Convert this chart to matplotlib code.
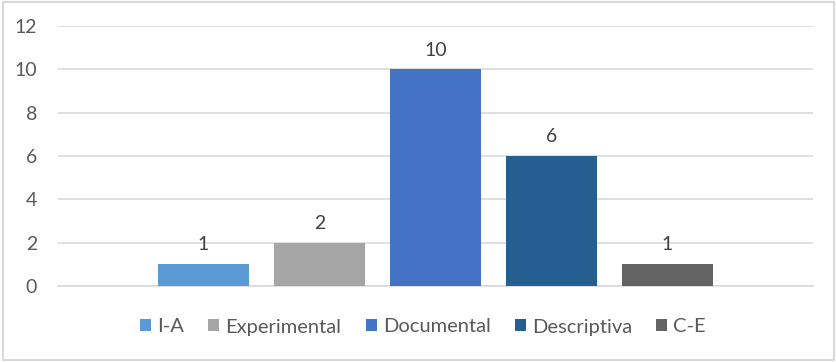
import matplotlib
matplotlib.use("Agg")
import matplotlib.pyplot as plt
from matplotlib.patches import Rectangle

series = ["I-A", "Experimental", "Documental", "Descriptiva", "C-E"]
values = [1, 2, 10, 6, 1]
colors = ["#5B9BD5", "#A5A5A5", "#4472C4", "#255E91", "#636363"]
yticks = [0, 2, 4, 6, 8, 10, 12]

plt.rcParams['font.family'] = ['Lato', 'DejaVu Sans']

fig = plt.figure(figsize=(8.37, 3.62), dpi=100)
fig.patch.set_facecolor("white")
fig.patches.append(Rectangle((0.003, 0.005), 0.994, 0.99, transform=fig.transFigure,
                             fill=False, edgecolor="#D9D9D9", linewidth=1.5))

ax = fig.add_axes([58/837, 76/362, 755/837, 260/362])
positions = [i - 2 for i in range(len(series))]
for p, v, c, s in zip(positions, values, colors, series):
    ax.bar(p, v, width=0.784, color=c, label=s, zorder=3)
    ax.text(p, v + 0.5, str(v), ha="center", va="bottom", fontsize=14, color="#404040")

ax.set_xlim(-3.254, 3.254)
ax.set_ylim(0, 12)
ax.set_yticks(yticks)
ax.set_xticks([])
ax.yaxis.grid(True, color="#D9D9D9", linewidth=1.2, zorder=0)
ax.set_axisbelow(True)
for sp in ["top", "right", "left"]:
    ax.spines[sp].set_visible(False)
ax.spines["bottom"].set_color("#D9D9D9")
ax.spines["bottom"].set_linewidth(1.2)
ax.tick_params(axis="y", length=0, labelsize=14, labelcolor="#595959", pad=15)

leg = fig.legend(loc="center", bbox_to_anchor=(423/837, 1 - 327/362), ncol=5, frameon=False,
                 fontsize=14.5, handlelength=0.55, handleheight=0.55, handletextpad=0.3,
                 columnspacing=1.2, labelcolor="#595959", borderpad=0, borderaxespad=0)

fig.savefig("out.png", dpi=100)
